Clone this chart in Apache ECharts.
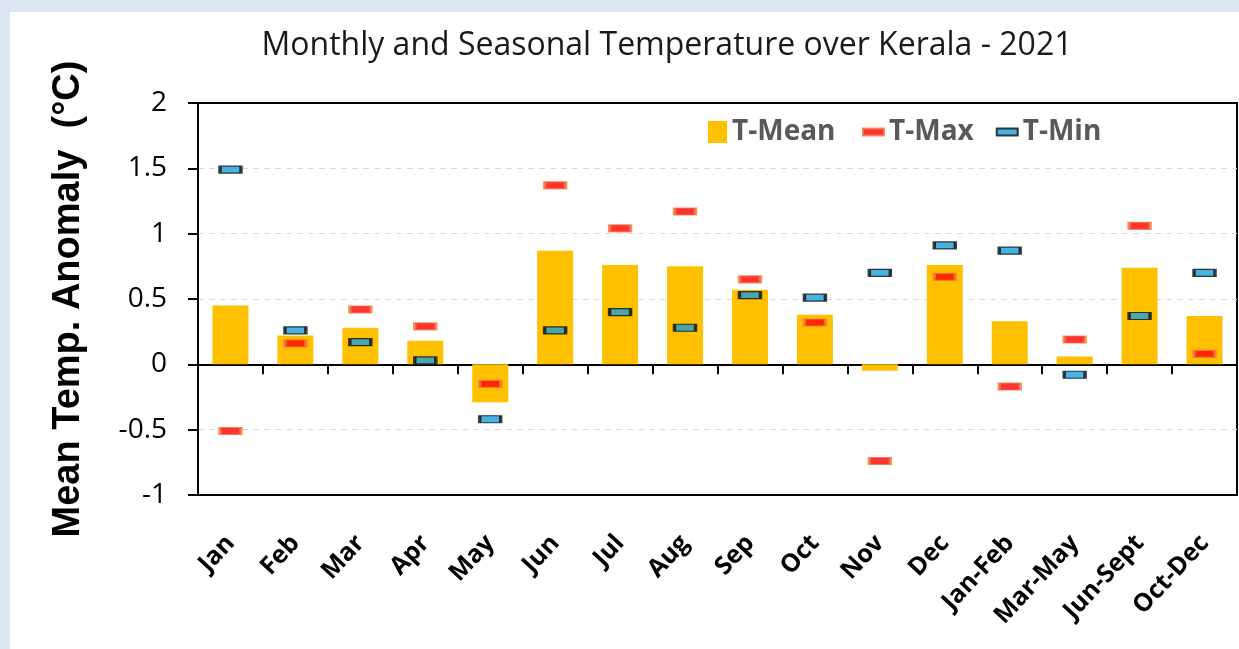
<!DOCTYPE html>
<html>
<head>
<meta charset="utf-8">
<title>Monthly and Seasonal Temperature over Kerala - 2021</title>
<script src="https://cdn.jsdelivr.net/npm/echarts@6/dist/echarts.min.js"></script>
<style>
  html, body { margin: 0; padding: 0; background: #dce6f2; }
  #chart { position: absolute; left: 10px; top: 12px; width: 1229px; height: 637px; background: #fff; }
</style>
</head>
<body>
<div id="chart"></div>
<script>
// data
var categories = ['Jan', 'Feb', 'Mar', 'Apr', 'May', 'Jun', 'Jul', 'Aug', 'Sep', 'Oct', 'Nov', 'Dec',
                  'Jan-Feb', 'Mar-May', 'Jun-Sept', 'Oct-Dec'];
var tMean = [0.45, 0.22, 0.28, 0.18, -0.29, 0.87, 0.76, 0.75, 0.57, 0.38, -0.05, 0.76, 0.33, 0.06, 0.74, 0.37];
var tMax  = [-0.51, 0.16, 0.42, 0.29, -0.15, 1.37, 1.04, 1.17, 0.65, 0.32, -0.74, 0.67, -0.17, 0.19, 1.06, 0.08];
var tMin  = [1.49, 0.26, 0.17, 0.03, -0.42, 0.26, 0.40, 0.28, 0.53, 0.51, 0.70, 0.91, 0.87, -0.08, 0.37, 0.70];
var yTicks = [-1, -0.5, 0, 0.5, 1, 1.5, 2];

var myChart = echarts.init(document.getElementById('chart'), null, { renderer: 'canvas' });

var option = {
  backgroundColor: '#ffffff',
  animation: false,
  title: {
    text: 'Monthly and Seasonal Temperature over Kerala - 2021',
    left: 657,
    top: 18,
    padding: 0,
    textAlign: 'center',
    textStyle: {
      fontFamily: 'Open Sans',
      fontSize: 32,
      fontWeight: 'normal',
      color: '#1a1a1a'
    }
  },
  legend: [
    {
      data: ['T-Mean'],
      left: 698,
      top: 106,
      padding: 0,
      itemWidth: 19,
      itemHeight: 22,
      icon: 'rect',
      textStyle: { fontFamily: 'Open Sans', fontSize: 28, fontWeight: 'bold', color: '#595959' }
    },
    {
      data: ['T-Max', 'T-Min'],
      left: 852,
      top: 106,
      padding: 0,
      itemGap: 22,
      itemWidth: 21,
      itemHeight: 7,
      textStyle: { fontFamily: 'Open Sans', fontSize: 28, fontWeight: 'bold', color: '#595959' }
    }
  ],
  grid: {
    left: 188,
    right: 2,
    top: 91,
    bottom: 154,
    show: true,
    borderColor: '#000',
    borderWidth: 2
  },
  xAxis: [
    {
      type: 'category',
      data: categories,
      axisLine: { onZero: true, lineStyle: { color: '#000', width: 2 } },
      axisTick: { show: true, length: 10, lineStyle: { color: '#000', width: 2 } },
      axisLabel: { show: false },
      splitLine: { show: false }
    },
    {
      type: 'category',
      data: categories,
      position: 'bottom',
      axisLine: { show: false, onZero: false },
      axisTick: { show: false },
      axisLabel: {
        rotate: 47,
        margin: 44,
        interval: 0,
        fontFamily: 'Open Sans',
        fontSize: 25,
        fontWeight: 'bold',
        color: '#000'
      },
      splitLine: { show: false }
    }
  ],
  yAxis: {
    type: 'value',
    min: yTicks[0],
    max: yTicks[yTicks.length - 1],
    interval: yTicks[1] - yTicks[0],
    name: 'Mean Temp. Anomaly  (°C)',
    nameLocation: 'middle',
    nameGap: 110,
    nameTextStyle: {
      fontFamily: 'Liberation Sans',
      fontSize: 38,
      fontWeight: 'bold',
      color: '#000'
    },
    axisLine: { show: true, lineStyle: { color: '#000', width: 2 } },
    axisTick: { show: true, length: 10, lineStyle: { color: '#000', width: 2 } },
    axisLabel: {
      margin: 31,
      fontFamily: 'Open Sans',
      fontSize: 28,
      color: '#000'
    },
    splitLine: {
      show: true,
      showMinLine: false,
      showMaxLine: false,
      lineStyle: { color: '#d9d9d9', type: [6, 5], width: 1 }
    }
  },
  series: [
    {
      name: 'T-Mean',
      type: 'bar',
      data: tMean,
      barWidth: 36,
      itemStyle: { color: '#ffc000' }
    },
    {
      name: 'T-Max',
      type: 'scatter',
      data: tMax,
      symbol: 'rect',
      symbolSize: [21, 7],
      z: 4,
      itemStyle: { color: '#ff0000', borderColor: '#f07a3e', borderWidth: 2 }
    },
    {
      name: 'T-Min',
      type: 'scatter',
      data: tMin,
      symbol: 'rect',
      symbolSize: [21, 7],
      z: 4,
      itemStyle: { color: '#1a9fd8', borderColor: '#0d0d0d', borderWidth: 2 }
    }
  ]
};

myChart.setOption(option);
window.addEventListener('resize', myChart.resize);
</script>
</body>
</html>
